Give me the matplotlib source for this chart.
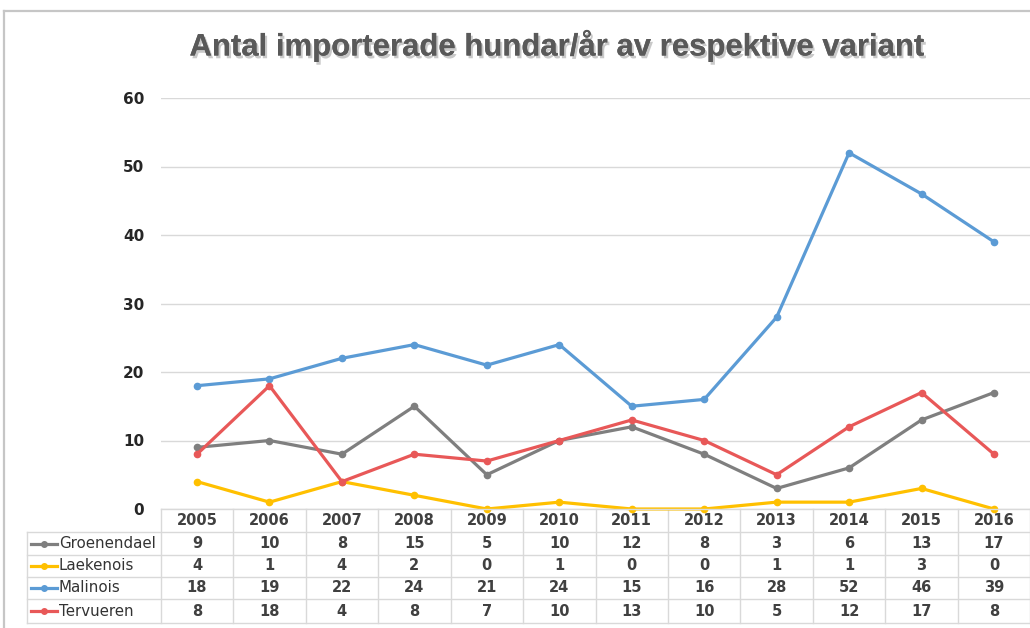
import matplotlib
matplotlib.use("Agg")
import matplotlib.pyplot as plt
import matplotlib.patheffects as pe
from matplotlib.lines import Line2D
from matplotlib.transforms import blended_transform_factory

years = ["2005", "2006", "2007", "2008", "2009", "2010", "2011", "2012", "2013", "2014", "2015", "2016"]
series_names = ["Groenendael", "Laekenois", "Malinois", "Tervueren"]
groenendael = [9, 10, 8, 15, 5, 10, 12, 8, 3, 6, 13, 17]
laekenois = [4, 1, 4, 2, 0, 1, 0, 0, 1, 1, 3, 0]
malinois = [18, 19, 22, 24, 21, 24, 15, 16, 28, 52, 46, 39]
tervueren = [8, 18, 4, 8, 7, 10, 13, 10, 5, 12, 17, 8]
colors = ["#7F7F7F", "#FFC000", "#5B9BD5", "#E85858"]
yticks = [0, 10, 20, 30, 40, 50, 60]
title = "Antal importerade hundar/år av respektive variant"

W, H = 1030, 628
fig = plt.figure(figsize=(W / 100, H / 100), dpi=100)

def fx(px):
    return px / W

def fy(py):
    return 1 - py / H

# outer frame
fig.add_artist(Line2D([fx(4), fx(4)], [fy(11), fy(640)], color="#C6C6C6", lw=1.6))
fig.add_artist(Line2D([fx(4), fx(1040)], [fy(11), fy(11)], color="#C6C6C6", lw=1.6))

ax_left, ax_right = 160.8, 1030.2
ax_top, ax_bot = 98, 509
ax = fig.add_axes([fx(ax_left), fy(ax_bot), (ax_right - ax_left) / W, (ax_bot - ax_top) / H])
x = list(range(len(years)))
data = [groenendael, laekenois, malinois, tervueren]
for i in range(4):
    ax.plot(x, data[i], color=colors[i], lw=2.3, marker="o", ms=4.5, zorder=3 + i,
            solid_capstyle="round", solid_joinstyle="round", clip_on=False)
ax.set_xlim(-0.5, len(years) - 0.5)
ax.set_ylim(0, 60)
ax.set_yticks(yticks)
ax.set_yticklabels([str(t) for t in yticks], fontsize=11, fontweight="bold", color="#262626")
ax.tick_params(axis="y", length=0, pad=12)
ax.tick_params(axis="x", length=0, labelbottom=False)
for s in ax.spines.values():
    s.set_visible(False)
ax.grid(axis="y", color="#D9D9D9", lw=1.0)
ax.set_axisbelow(True)
ax.patch.set_alpha(0)

# table drawn under axes
trans = blended_transform_factory(ax.transData, fig.transFigure)
row_edges = [509, 532, 555, 577, 599, 623]
grid_c = "#D9D9D9"
fig.add_artist(Line2D([fx(ax_left), fx(ax_right)], [fy(509), fy(509)], color=grid_c, lw=1.0))
for yy in row_edges[1:]:
    fig.add_artist(Line2D([fx(27), fx(ax_right)], [fy(yy), fy(yy)], color=grid_c, lw=1.0))
fig.add_artist(Line2D([fx(27), fx(27)], [fy(532), fy(623)], color=grid_c, lw=1.0))
for j in range(len(years) + 1):
    xx = j - 0.5
    ax.add_artist(Line2D([xx, xx], [fy(509), fy(623)], color=grid_c, lw=1.0, transform=trans, clip_on=False))

txt_c = "#404040"
for j, yr in enumerate(years):
    ax.text(j, fy(520.5), yr, transform=trans, ha="center", va="center",
            fontsize=10.5, fontweight="bold", color=txt_c, clip_on=False)
for i in range(4):
    yc = fy((row_edges[i + 1] + row_edges[i + 2]) / 2)
    for j, v in enumerate(data[i]):
        ax.text(j, yc, str(v), transform=trans, ha="center", va="center",
                fontsize=10.5, fontweight="bold", color=txt_c, clip_on=False)
    fig.add_artist(Line2D([fx(31), fx(57)], [yc, yc], color=colors[i], lw=2.3))
    fig.add_artist(Line2D([fx(44)], [yc], color=colors[i], marker="o", ms=4, lw=0))
    fig.text(fx(59), yc, series_names[i], ha="left", va="center", fontsize=10.8,
             color="#333333", fontweight="normal")

fig.text(fx(557), fy(46), title, ha="center", va="center", fontsize=22.4, fontweight="bold",
         color="#595959", family=["Liberation Sans", "DejaVu Sans"],
         path_effects=[pe.withSimplePatchShadow(offset=(1.5, -2), shadow_rgbFace="#888888", alpha=0.45), pe.Normal()])

fig.savefig("out.png", dpi=100)
